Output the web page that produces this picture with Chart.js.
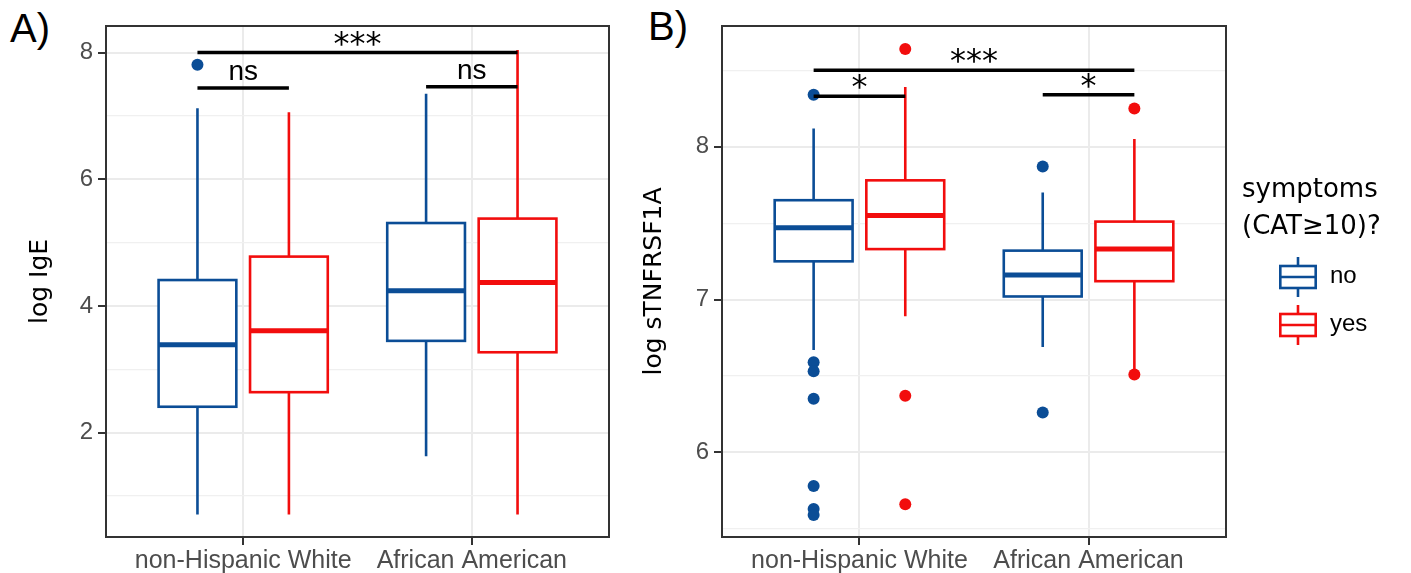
<!DOCTYPE html>
<html>
<head>
<meta charset="utf-8">
<title>log IgE and log sTNFRSF1A by race and symptoms</title>
<script src="https://cdn.jsdelivr.net/npm/chart.js@4.4.1/dist/chart.umd.min.js"></script>
<style>
  body { margin: 0; background: #fff; }
  #page { position: relative; width: 1411px; height: 573px; overflow: hidden; font-family: "Liberation Sans", Arial, sans-serif; }
  .tag { position: absolute; font-size: 40px; line-height: 40px; color: #000; }
  #wrapA { position: absolute; left: 0; top: 0; }
  #wrapB { position: absolute; left: 620px; top: 0; }
  #legendTitle { position: absolute; left: 1242px; top: 170px; font-family: "DejaVu Sans", sans-serif; font-size: 26px; line-height: 37px; color: #000; white-space: nowrap; }
  .key { position: absolute; left: 1276px; height: 44px; }
  .key svg { position: absolute; left: 0; top: 0; }
  .key span { position: absolute; left: 54px; top: 8px; font-size: 24px; line-height: 24px; color: #000; }
</style>
</head>
<body>
<div id="page">
  <div class="tag" style="left:10px; top:8px;">A)</div>
  <div class="tag" style="left:648px; top:6px;">B)</div>
  <div id="wrapA"><canvas id="chartA" width="620" height="573"></canvas></div>
  <div id="wrapB"><canvas id="chartB" width="791" height="573"></canvas></div>
  <div id="legendTitle">symptoms<br>(CAT≥10)?</div>
  <div id="legend"></div>
</div>
<script>
// categories and groups
const groups = ['non-Hispanic White', 'African American'];
const symptoms = ['no', 'yes'];

// box summaries per group: [lower whisker, Q1, median, Q3, upper whisker]
const igeNo = [[0.71, 2.41, 3.39, 4.41, 7.12], [1.63, 3.45, 4.24, 5.31, 7.35]];
const igeYes = [[0.71, 2.64, 3.61, 4.78, 7.06], [0.71, 3.27, 4.37, 5.38, 8.04]];
const igeNoOut = [[7.81], []];
const igeYesOut = [[], []];
const igeTicks = [2, 4, 6, 8];
const igeMinor = [1, 3, 5, 7];
// [group, symptom, group, symptom, height, label]
const igeTests = [[0, 0, 1, 1, 8.0, '***'], [0, 0, 0, 1, 7.44, 'ns'], [1, 0, 1, 1, 7.46, 'ns']];

const tnfNo = [[6.67, 7.25, 7.47, 7.65, 8.12], [6.69, 7.02, 7.16, 7.32, 7.70]];
const tnfYes = [[6.89, 7.33, 7.55, 7.78, 8.39], [6.53, 7.12, 7.33, 7.51, 8.05]];
const tnfNoOut = [[8.34, 6.59, 6.53, 6.35, 5.78, 5.63, 5.59], [7.87, 6.26]];
const tnfYesOut = [[8.64, 6.37, 5.66], [8.25, 6.51]];
const tnfTicks = [6, 7, 8];
const tnfMinor = [5.5, 6.5, 7.5, 8.5];
const tnfTests = [[0, 0, 1, 1, 8.50, '***'], [0, 0, 0, 1, 8.33, '*'], [1, 0, 1, 1, 8.34, '*']];

const colors = ['#0b4d96', '#f20d0d'];
const DODGE = [-0.2, 0.2];
const BOX_WIDTH = 0.34;
const GRID = '#ebebeb';
const INK = '#333333';

// draws boxes, whiskers and medians, then the significance brackets
function boxPlotPlugin(series, tests) {
  return {
    id: 'boxplot',
    beforeDatasetsDraw(chart) {
      const { ctx, scales: { x, y } } = chart;
      const half = (x.getPixelForValue(BOX_WIDTH) - x.getPixelForValue(0)) / 2;
      ctx.save();
      series.forEach((s, si) => {
        s.forEach((st, gi) => {
          const [lo, q1, med, q3, hi] = st.map(v => y.getPixelForValue(v));
          const cx = x.getPixelForValue(gi + 1 + DODGE[si]);
          ctx.strokeStyle = colors[si];
          ctx.lineWidth = 2.6;
          ctx.beginPath();
          ctx.moveTo(cx, q3); ctx.lineTo(cx, hi);
          ctx.moveTo(cx, q1); ctx.lineTo(cx, lo);
          ctx.stroke();
          ctx.fillStyle = '#fff';
          ctx.fillRect(cx - half, q3, 2 * half, q1 - q3);
          ctx.strokeRect(cx - half, q3, 2 * half, q1 - q3);
          ctx.lineWidth = 5;
          ctx.beginPath();
          ctx.moveTo(cx - half, med); ctx.lineTo(cx + half, med);
          ctx.stroke();
        });
      });
      ctx.restore();
    },
    afterDatasetsDraw(chart) {
      const { ctx, chartArea: a, scales: { x, y } } = chart;
      ctx.save();
      tests.forEach(([g1, s1, g2, s2, h, label]) => {
        const x1 = x.getPixelForValue(g1 + 1 + DODGE[s1]);
        const x2 = x.getPixelForValue(g2 + 1 + DODGE[s2]);
        const yy = y.getPixelForValue(h);
        ctx.strokeStyle = '#000';
        ctx.lineWidth = 3.5;
        ctx.beginPath();
        ctx.moveTo(x1, yy); ctx.lineTo(x2, yy);
        ctx.stroke();
        ctx.fillStyle = '#000';
        ctx.textAlign = 'center';
        ctx.textBaseline = 'alphabetic';
        if (label === 'ns') {
          ctx.font = '28px "Liberation Sans", Arial, sans-serif';
          ctx.fillText(label, (x1 + x2) / 2, yy - 8);
        } else {
          ctx.font = '32px "DejaVu Sans", sans-serif';
          ctx.fillText(label, (x1 + x2) / 2, yy + 1);
        }
      });
      ctx.strokeStyle = INK;
      ctx.lineWidth = 2;
      ctx.strokeRect(a.left, a.top, a.right - a.left, a.bottom - a.top);
      ctx.restore();
    }
  };
}

function makeChart(id, cfg) {
  const major = cfg.ticks;
  const isMajor = v => major.includes(v);
  const datasets = cfg.outliers.map((outs, si) => ({
    label: symptoms[si],
    data: outs.flatMap((vals, gi) => vals.map(v => ({ x: gi + 1 + DODGE[si], y: v }))),
    backgroundColor: colors[si],
    borderWidth: 0,
    pointRadius: 6,
    pointHoverRadius: 6
  }));
  return new Chart(document.getElementById(id), {
    type: 'scatter',
    data: { datasets },
    options: {
      responsive: false,
      animation: false,
      devicePixelRatio: 1,
      layout: { padding: cfg.padding },
      plugins: { legend: { display: false }, tooltip: { enabled: false } },
      scales: {
        x: {
          type: 'linear',
          min: 0.4,
          max: 2.6,
          afterBuildTicks: s => { s.ticks = groups.map((g, i) => ({ value: i + 1 })); },
          afterFit: s => { s.height = 36; },
          ticks: {
            callback: (v, i) => groups[i],
            font: { family: '"Liberation Sans", Arial, sans-serif', size: 25 },
            color: '#4d4d4d',
            padding: 1,
            autoSkip: false,
            maxRotation: 0
          },
          grid: { color: GRID, lineWidth: 2, tickColor: INK, tickLength: 8, tickWidth: 2 },
          border: { display: false }
        },
        y: {
          type: 'linear',
          min: cfg.min,
          max: cfg.max,
          afterBuildTicks: s => {
            s.ticks = [...cfg.minor, ...major].sort((p, q) => p - q).map(v => ({ value: v }));
          },
          afterFit: s => { s.width = cfg.axisWidth; },
          ticks: {
            callback: v => (isMajor(v) ? String(v) : ''),
            font: { family: '"Liberation Sans", Arial, sans-serif', size: 24 },
            color: '#4d4d4d',
            padding: 5,
            autoSkip: false
          },
          grid: {
            color: c => (c.tick && isMajor(c.tick.value) ? GRID : '#f0f0f0'),
            lineWidth: c => (c.tick && isMajor(c.tick.value) ? 2 : 1.2),
            tickColor: c => (c.tick && isMajor(c.tick.value) ? INK : 'rgba(0,0,0,0)'),
            tickLength: 8,
            tickWidth: 2
          },
          border: { display: false },
          title: {
            display: true,
            text: cfg.title,
            color: '#000',
            font: { family: '"DejaVu Sans", sans-serif', size: 25 },
            padding: { top: cfg.titlePad, bottom: 0 }
          }
        }
      }
    },
    plugins: [boxPlotPlugin(cfg.series, cfg.tests)]
  });
}

makeChart('chartA', {
  title: 'log IgE',
  series: [igeNo, igeYes],
  outliers: [igeNoOut, igeYesOut],
  tests: igeTests,
  ticks: igeTicks,
  minor: igeMinor,
  min: 0.354,
  max: 8.42,
  axisWidth: 106,
  titlePad: 25,
  padding: { left: 0, right: 11, top: 26, bottom: 0 }
});

makeChart('chartB', {
  title: 'log sTNFRSF1A',
  series: [tnfNo, tnfYes],
  outliers: [tnfNoOut, tnfYesOut],
  tests: tnfTests,
  ticks: tnfTicks,
  minor: tnfMinor,
  min: 5.446,
  max: 8.79,
  axisWidth: 102,
  titlePad: 19,
  padding: { left: 0, right: 185, top: 26, bottom: 0 }
});

// legend keys: small box-plot glyphs in the symptom colours
const legend = document.getElementById('legend');
symptoms.forEach((name, i) => {
  const key = document.createElement('div');
  key.className = 'key';
  key.style.top = (255 + i * 48) + 'px';
  key.innerHTML =
    '<svg width="44" height="44">' +
    '<line x1="22" y1="2" x2="22" y2="42" stroke="' + colors[i] + '" stroke-width="2.6"/>' +
    '<rect x="4.3" y="11" width="35.4" height="22" fill="#fff" stroke="' + colors[i] + '" stroke-width="2.6"/>' +
    '<line x1="4.3" y1="22" x2="39.7" y2="22" stroke="' + colors[i] + '" stroke-width="2.6"/>' +
    '</svg><span>' + name + '</span>';
  legend.appendChild(key);
});
</script>
</body>
</html>
